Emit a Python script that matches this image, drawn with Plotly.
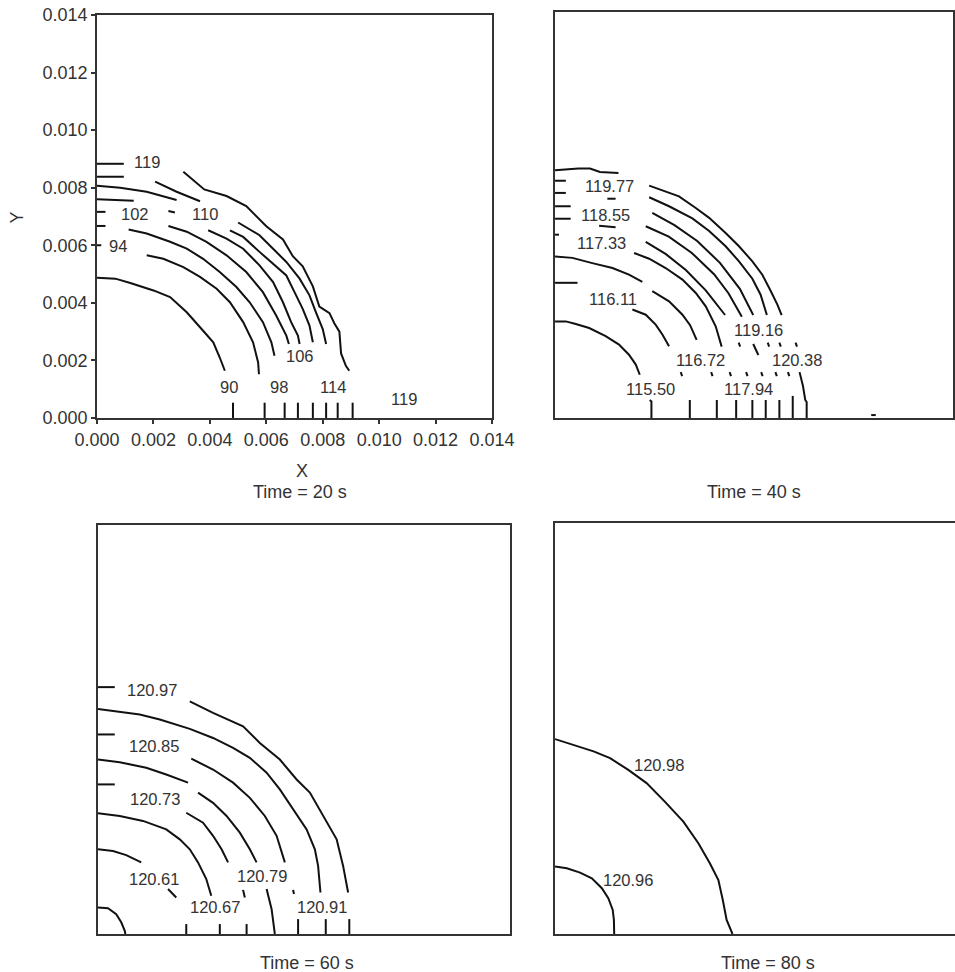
import plotly.graph_objects as go

MM = 1e-3  # values below are read in millimetres; axes are in metres

# ---------------- Time = 20 s ----------------
T20_LEVELS = [90, 94, 98, 102, 106, 110, 114, 119]
T20_X = [
    [0, 0.65, 1.18, 2.00, 2.59, 3.18, 3.76, 4.12, 4.35, 4.53, None, 4.82, 4.82],
    [0, 0.15, None, 1.76, 2.35, 3.06, 3.65, 4.24, 4.71, 5.18, 5.53, 5.71, 5.74, None, 5.94, 5.94],
    [0, 0.30, None, 1.12, 1.76, 2.59, 3.18, 3.76, 4.35, 4.94, 5.41, 5.88, 6.18, 6.29, None, 6.65, 6.65],
    [0, 0.30, None, 2.53, 3.18, 3.88, 4.59, 5.29, 5.88, 6.35, 6.71, 6.80, None, 7.12, 7.12],
    [0, 1.30, None, 2.53, 2.76, None, 3.94, 4.59, 5.18, 5.76, 6.24, 6.59, 6.88, 7.12, 7.18, None, 7.65, 7.65],
    [0, 0.82, 1.76, 2.82, None, 4.71, 5.18, 5.76, 6.24, 6.71, 7.00, 7.29, 7.53, 7.65, None, 8.12, 8.12],
    [0, 0.95, None, 2.06, 2.82, 3.65, None, 5.00, 5.76, 6.24, 6.71, 7.18, 7.53, 7.76, 8.00, 8.12, None, 8.53, 8.53],
    [0, 0.95, None, 3.06, 3.80, 4.59, 5.29, 6.00, 6.59, 6.94, 7.29, 7.65, 7.88, 8.24, 8.41, 8.59, 8.65, 8.82, 8.94, None, 9.06, 9.06],
]
T20_Y = [
    [4.87, 4.84, 4.69, 4.43, 4.20, 3.67, 3.03, 2.63, 2.10, 1.64, None, 0.53, 0],
    [6.00, 6.00, None, 5.65, 5.53, 5.24, 4.90, 4.49, 4.02, 3.33, 2.63, 1.93, 1.52, None, 0.53, 0],
    [6.67, 6.67, None, 6.55, 6.41, 6.12, 5.88, 5.53, 5.07, 4.55, 4.02, 3.33, 2.63, 2.16, None, 0.53, 0],
    [7.16, 7.16, None, 6.67, 6.47, 6.12, 5.65, 5.07, 4.37, 3.56, 2.86, 2.57, None, 0.53, 0],
    [7.60, 7.55, None, 7.19, 7.14, None, 6.52, 6.23, 5.88, 5.30, 4.72, 4.02, 3.33, 2.86, 2.57, None, 0.53, 0],
    [8.07, 8.00, 7.86, 7.57, None, 6.52, 6.29, 5.77, 5.36, 4.95, 4.37, 3.79, 3.21, 2.63, None, 0.53, 0],
    [8.38, 8.38, None, 8.21, 7.86, 7.53, None, 6.79, 6.35, 5.88, 5.42, 4.84, 4.26, 3.67, 3.09, 2.57, None, 0.53, 0],
    [8.83, 8.83, None, 8.55, 7.94, 7.71, 7.36, 6.66, 6.20, 5.62, 5.27, 4.57, 3.87, 3.64, 3.29, 3.00, 2.24, 1.81, 1.64, None, 0.53, 0],
]
T20_LABEL_TEXT = ["119", "102", "110", "94", "106", "90", "98", "114", "119"]
T20_LABEL_X = [1.76, 1.35, 3.82, 0.76, 7.18, 4.68, 6.45, 8.35, 10.88]
T20_LABEL_Y = [8.88, 7.07, 7.07, 5.98, 2.14, 1.09, 1.09, 1.09, 0.67]

# ---------------- Time = 40 s ----------------
T40_LEVELS = [115.50, 116.11, 116.72, 117.33, 117.94, 118.55, 119.16, 119.77, 120.38]
T40_X = [
    [0, 0.38, 0.73, 1.20, 1.78, 2.25, 2.60, 2.84, 2.98, None, 3.33, 3.39, 3.39],
    [0, 0.79, None, 2.72, 3.19, 3.54, 3.78, 4.01, None, 4.42, 4.47, None, 4.74, 4.74],
    [0, 0.61, 1.31, 2.02, 2.60, 3.07, None, 3.42, 4.01, 4.48, 4.75, 4.98, None, 5.49, 5.54, None, 5.69, 5.69],
    [0, 0.14, None, 2.78, 3.31, 3.89, 4.48, 4.95, 5.30, 5.65, 5.86, None, 6.14, 6.19, None, 6.37, 6.37],
    [0, 0.55, None, 1.55, 2.13, None, 3.19, 3.90, 4.60, 5.30, 5.98, None, 6.46, 6.51, None, 6.72, 6.77, None, 6.94, 6.94],
    [0, 0.55, None, 3.19, 4.00, 4.80, 5.60, 6.10, 6.57, None, 6.97, 7.15, None, 7.25, 7.30, None, 7.41, 7.41],
    [0, 0.38, None, 1.84, 2.13, None, 3.42, 4.20, 5.00, 5.80, 6.50, 6.97, None, 7.48, 7.53, None, 7.75, 7.80, None, 7.89, 7.89],
    [0, 0.38, None, 3.31, 4.01, 4.83, 5.42, 6.00, 6.47, 6.94, 7.23, 7.45, None, 7.89, 7.94, None, 8.19, 8.24, None, 8.36, 8.36],
    [0, 0.82, 1.23, 1.58, 2.23, None, 3.31, 3.78, 4.36, 4.95, 5.42, 6.00, 6.47, 6.94, 7.29, 7.59, 7.82, 7.97, None, 8.46, 8.51, None, 8.60, 8.72, 8.80, 8.85, 8.85],
]
T40_Y = [
    [3.33, 3.33, 3.24, 3.10, 2.82, 2.53, 2.18, 1.84, 1.49, None, 0.62, 0.57, 0],
    [4.66, 4.66, None, 3.74, 3.56, 3.22, 2.87, 2.47, None, 1.58, 1.44, None, 0.62, 0],
    [5.57, 5.52, 5.34, 5.17, 4.94, 4.69, None, 4.37, 4.02, 3.56, 3.20, 2.69, None, 1.58, 1.44, None, 0.62, 0],
    [6.32, 6.32, None, 5.69, 5.49, 5.17, 4.77, 4.31, 3.85, 3.16, 2.46, None, 1.58, 1.44, None, 0.62, 0],
    [6.87, 6.87, None, 6.63, 6.58, None, 6.07, 5.65, 5.10, 4.40, 3.55, None, 2.60, 2.46, None, 1.58, 1.44, None, 0.62, 0],
    [7.30, 7.30, None, 6.61, 6.25, 5.70, 4.95, 4.30, 3.49, None, 2.55, 2.17, None, 1.58, 1.44, None, 0.62, 0],
    [7.76, 7.76, None, 7.56, 7.56, None, 7.07, 6.65, 6.10, 5.35, 4.45, 3.55, None, 2.60, 2.46, None, 1.58, 1.44, None, 0.62, 0],
    [8.18, 8.18, None, 7.61, 7.30, 6.88, 6.45, 5.92, 5.40, 4.80, 4.25, 3.55, None, 2.60, 2.46, None, 1.58, 1.44, None, 0.76, 0],
    [8.54, 8.60, 8.60, 8.48, 8.45, None, 8.01, 7.84, 7.64, 7.24, 6.90, 6.38, 5.92, 5.40, 4.94, 4.37, 3.91, 3.55, None, 2.60, 2.46, None, 1.58, 1.10, 0.62, 0.55, 0],
]
T40_MARK_X = [11.12, 11.28]
T40_MARK_Y = [0.10, 0.10]
T40_LABEL_TEXT = ["119.77", "118.55", "117.33", "116.11", "119.16", "116.72", "120.38", "115.50", "117.94"]
T40_LABEL_X = [1.90, 1.78, 1.64, 2.04, 7.14, 5.12, 8.51, 3.34, 6.80]
T40_LABEL_Y = [7.99, 6.99, 6.03, 4.11, 3.02, 1.99, 1.99, 0.99, 1.00]

# ---------------- Time = 60 s ----------------
T60_LEVELS = [120.55, 120.61, 120.67, 120.73, 120.79, 120.85, 120.91, 120.97]
T60_X = [
    [0, 0.34, 0.62, 0.79, 0.91, 0.93],
    [0, 0.51, 0.96, 1.47, None, 2.38, 2.66, None, 3.00, 3.00],
    [0, 0.74, 1.53, 2.32, 2.78, 3.12, 3.40, 3.68, 3.85, None, 4.14, 4.14],
    [0, 0.57, None, 3.00, 3.57, 3.91, 4.20, 4.42, None, 4.93, 4.99, None, 5.05, 5.05],
    [0, 0.74, 1.64, 2.32, 3.06, None, 3.40, 3.91, 4.37, 4.82, 5.16, 5.39, None, 5.73, 5.90, 6.01],
    [0, 0.57, None, 3.17, 3.91, 4.59, 5.16, 5.67, 6.07, 6.35, None, 6.63, 6.66, None, 6.80, 6.80],
    [0, 0.62, 1.42, 2.10, 3.12, 3.91, 4.59, 5.16, 5.73, 6.18, 6.63, 7.09, 7.37, 7.48, 7.56, None, 7.74, 7.74],
    [0, 0.57, None, 3.12, 3.91, 4.93, 5.50, 6.18, 6.75, 7.20, 7.65, 8.11, 8.33, 8.50, None, 8.54, 8.54],
]
T60_Y = [
    [0.91, 0.88, 0.68, 0.40, 0.11, 0],
    [2.90, 2.84, 2.70, 2.45, None, 1.54, 1.25, None, 0.34, 0],
    [4.13, 4.04, 3.87, 3.58, 3.24, 2.90, 2.45, 1.88, 1.31, None, 0.34, 0],
    [5.12, 5.12, None, 4.15, 3.81, 3.36, 2.90, 2.45, None, 1.51, 1.25, None, 0.34, 0],
    [5.97, 5.88, 5.69, 5.46, 5.18, None, 4.84, 4.49, 4.04, 3.47, 2.90, 2.45, None, 1.54, 0.85, 0],
    [6.83, 6.83, None, 6.00, 5.63, 5.18, 4.66, 4.04, 3.36, 2.45, None, 1.51, 1.37, None, 0.51, 0],
    [7.70, 7.62, 7.51, 7.34, 7.02, 6.71, 6.37, 6.03, 5.52, 4.95, 4.27, 3.58, 2.90, 2.33, 1.42, None, 0.51, 0],
    [8.45, 8.45, None, 7.96, 7.57, 7.11, 6.54, 5.97, 5.29, 4.84, 4.04, 3.24, 2.33, 1.42, None, 0.51, 0],
]
T60_LABEL_TEXT = ["120.97", "120.85", "120.73", "120.61", "120.79", "120.67", "120.91"]
T60_LABEL_X = [1.85, 1.89, 1.93, 1.89, 5.56, 3.97, 7.60]
T60_LABEL_Y = [8.34, 6.45, 4.63, 1.88, 1.99, 0.94, 0.94]

# ---------------- Time = 80 s ----------------
T80_LEVELS = [120.96, 120.98]
T80_X = [
    [0, 0.40, 0.85, 1.25, 1.59, 1.81, 1.96, 2.00, 2.01],
    [0, 0.62, 1.31, 1.87, 2.49, 3.11, 3.73, 4.36, 4.87, 5.26, 5.55, 5.70, 5.83, 6.03],
]
T80_Y = [
    [2.30, 2.24, 2.09, 1.90, 1.56, 1.22, 0.82, 0.48, 0],
    [6.64, 6.44, 6.22, 5.99, 5.59, 5.14, 4.51, 3.83, 3.09, 2.41, 1.84, 1.16, 0.48, 0],
]
T80_LABEL_TEXT = ["120.96", "120.98"]
T80_LABEL_X = [2.49, 3.53]
T80_LABEL_Y = [1.84, 5.76]

AXIS_MAX = 0.014
T80_X_VISIBLE_MAX = 0.01359   # the right part of the last panel is cropped off the page
TICK_VALS = [0.000, 0.002, 0.004, 0.006, 0.008, 0.010, 0.012, 0.014]
TIME_TITLES = ["Time = 20 s", "Time = 40 s", "Time = 60 s", "Time = 80 s"]

FONT = "Liberation Sans, Arial, sans-serif"
TEXT_COLOR = "#333333"


def scale(vals):
    return [None if v is None else v * MM for v in vals]


panels = [
    (T20_LEVELS, T20_X, T20_Y, T20_LABEL_TEXT, T20_LABEL_X, T20_LABEL_Y),
    (T40_LEVELS, T40_X, T40_Y, T40_LABEL_TEXT, T40_LABEL_X, T40_LABEL_Y),
    (T60_LEVELS, T60_X, T60_Y, T60_LABEL_TEXT, T60_LABEL_X, T60_LABEL_Y),
    (T80_LEVELS, T80_X, T80_Y, T80_LABEL_TEXT, T80_LABEL_X, T80_LABEL_Y),
]

# panel domains (paper fractions)
domains = [
    ([0.1016, 0.5152], [0.5700, 0.9846]),
    ([0.5812, 0.9980], [0.5700, 0.9877]),
    ([0.1026, 0.5340], [0.0391, 0.4599]),
    ([0.5812, 1.0000], [0.0391, 0.4619]),
]

fig = go.Figure()
annotations = []

for i, (levels, xs, ys, ltxt, lx, ly) in enumerate(panels):
    n = "" if i == 0 else str(i + 1)
    for lev, cx, cy in zip(levels, xs, ys):
        fig.add_trace(go.Scatter(
            x=scale(cx), y=scale(cy), mode="lines",
            line=dict(color="#111111", width=2),
            name=str(lev), showlegend=False, hoverinfo="skip",
            xaxis="x" + n, yaxis="y" + n,
        ))
    for t, x, y in zip(ltxt, lx, ly):
        annotations.append(dict(
            x=x * MM, y=y * MM, xref="x" + n, yref="y" + n, text=t,
            showarrow=False, font=dict(family=FONT, size=16.5, color=TEXT_COLOR),
            xanchor="center", yanchor="middle",
        ))

fig.add_trace(go.Scatter(
    x=scale(T40_MARK_X), y=scale(T40_MARK_Y), mode="lines",
    line=dict(color="#111111", width=2), showlegend=False, hoverinfo="skip",
    xaxis="x2", yaxis="y2",
))

layout = dict(
    width=955, height=972,
    margin=dict(l=0, r=0, t=0, b=0, autoexpand=False),
    paper_bgcolor="white", plot_bgcolor="white",
    font=dict(family=FONT, color=TEXT_COLOR, size=18),
    showlegend=False,
)

for i, (dx, dy) in enumerate(domains):
    n = "" if i == 0 else str(i + 1)
    common = dict(
        range=[0, AXIS_MAX], showgrid=False, zeroline=False,
        showline=True, linecolor="#333333", linewidth=2, mirror=True,
        fixedrange=True, automargin=False,
    )
    xa = dict(common, domain=dx, anchor="y" + n)
    ya = dict(common, domain=dy, anchor="x" + n)
    if i == 0:
        for a in (xa, ya):
            a.update(
                tickmode="array", tickvals=TICK_VALS,
                ticktext=["%.3f" % v for v in TICK_VALS],
                ticks="outside", ticklen=4, tickwidth=1.5, tickcolor="#333333",
                tickfont=dict(family=FONT, size=18, color=TEXT_COLOR),
                showticklabels=True,
            )
    else:
        xa.update(showticklabels=False, ticks="")
        ya.update(showticklabels=False, ticks="")
    if i == 3:
        xa.update(range=[0, T80_X_VISIBLE_MAX])
        ya.update(mirror=False)
    layout["xaxis" + n] = xa
    layout["yaxis" + n] = ya

# axis titles and time captions
annotations.append(dict(x=301.5 / 955, y=1 - 471 / 972, xref="paper", yref="paper", text="X",
                        showarrow=False, xanchor="center", yanchor="middle",
                        font=dict(family=FONT, size=18, color=TEXT_COLOR)))
annotations.append(dict(x=16.5 / 955, y=1 - 218 / 972, xref="paper", yref="paper", text="Y",
                        textangle=-90, showarrow=False, xanchor="center", yanchor="middle",
                        font=dict(family=FONT, size=18, color=TEXT_COLOR)))
caption_pos = [(300 / 955, 1 - 492 / 972), (754 / 955, 1 - 492.5 / 972),
               (306.5 / 955, 1 - 963 / 972), (767.5 / 955, 1 - 963 / 972)]
for t, (x, y) in zip(TIME_TITLES, caption_pos):
    annotations.append(dict(x=x, y=y, xref="paper", yref="paper", text=t,
                            showarrow=False, xanchor="center", yanchor="middle",
                            font=dict(family=FONT, size=18, color=TEXT_COLOR)))

layout["annotations"] = annotations
fig.update_layout(**layout)
fig.write_html("out.html")
